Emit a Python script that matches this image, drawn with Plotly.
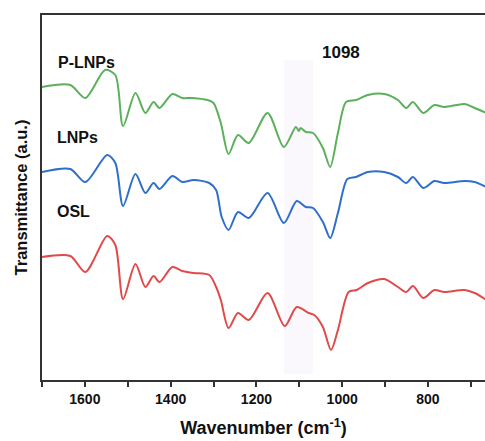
import plotly.graph_objects as go

# Wavenumber (cm-1) and transmittance (arbitrary, offset) per sample
wn_p = [1700, 1634, 1599, 1553, 1529, 1511, 1482, 1459, 1440, 1426, 1396, 1373, 1350, 1314, 1300, 1283,
        1265, 1243, 1218, 1174, 1136, 1108, 1101, 1097, 1085, 1068, 1045, 1028, 1010, 991, 968, 940,
        902, 870, 851, 835, 811, 785, 762, 715, 691, 664]
t_p = [293, 295, 282, 310, 305, 254, 287, 267, 278, 272, 286, 282, 282, 280, 277, 257,
       226, 245, 237, 267, 233, 253, 249, 252, 248, 247, 232, 213, 247, 278, 280, 285,
       286, 280, 272, 278, 267, 275, 273, 276, 272, 267]

wn_l = [1700, 1634, 1599, 1548, 1529, 1511, 1482, 1459, 1440, 1426, 1396, 1373, 1346, 1310, 1294, 1281,
        1265, 1243, 1218, 1174, 1136, 1106, 1085, 1068, 1045, 1028, 1010, 988, 968, 940,
        902, 870, 851, 835, 811, 785, 762, 715, 691, 664]
t_l = [208, 211, 198, 225, 217, 174, 206, 187, 197, 191, 204, 198, 200, 197, 190, 163,
       150, 168, 162, 187, 157, 179, 173, 172, 158, 142, 167, 201, 203, 208,
       208, 203, 197, 203, 192, 199, 197, 199, 198, 193]

wn_o = [1700, 1634, 1599, 1548, 1529, 1511, 1482, 1459, 1440, 1426, 1396, 1373, 1346, 1310, 1294, 1283,
        1265, 1243, 1218, 1174, 1134, 1106, 1078, 1065, 1045, 1026, 1010, 985, 966, 940,
        902, 870, 851, 835, 811, 785, 762, 715, 691, 664]
t_o = [123, 124, 108, 144, 135, 81, 116, 93, 104, 98, 113, 109, 107, 105, 93, 80,
       52, 67, 60, 87, 54, 73, 67, 65, 53, 30, 50, 88, 90, 97,
       101, 93, 88, 94, 82, 90, 88, 90, 87, 80]

band_lo, band_hi = 1068, 1136
band_label = "1098"

fig = go.Figure()
for wn, t, col in [(wn_o, t_o, "#e04a4a"), (wn_l, t_l, "#2f6fcc"), (wn_p, t_p, "#5cb05c")]:
    fig.add_trace(go.Scatter(x=wn, y=t, mode="lines",
                             line=dict(color=col, width=2, shape="spline", smoothing=0.8),
                             showlegend=False, hoverinfo="skip"))

fig.add_shape(type="rect", x0=band_lo, x1=band_hi, y0=6, y1=320, xref="x", yref="y",
              fillcolor="#fbf8fd", line=dict(width=0), layer="below")

for txt, x, y, sz in [("<b>P-LNPs</b>", 1597, 318, 16), ("<b>LNPs</b>", 1617, 243, 16),
                      ("<b>OSL</b>", 1626, 169, 16), ("<b>" + band_label + "</b>", 1003, 328, 17)]:
    fig.add_annotation(x=x, y=y, text=txt, showarrow=False,
                       font=dict(family="Liberation Sans, Arial", size=sz, color="#111"),
                       xanchor="center", yanchor="middle")

fig.update_layout(
    width=485, height=441,
    margin=dict(l=42, r=0, t=15, b=61),
    plot_bgcolor="white", paper_bgcolor="white",
    font=dict(family="Liberation Sans, Arial", color="#111"),
    xaxis=dict(range=[1700, 667], tickvals=[1600, 1400, 1200, 1000, 800],
               ticktext=["<b>1600</b>", "<b>1400</b>", "<b>1200</b>", "<b>1000</b>", "<b>800</b>"],
               tickfont=dict(size=14), ticks="outside", ticklen=5, tickwidth=1.5,
               tickcolor="#333", showline=True, linecolor="#333", linewidth=1.5,
               mirror=True, showgrid=False, zeroline=False,
               minor=dict(tickvals=[1700, 1500, 1300, 1100, 900, 700], ticks="outside",
                          ticklen=5, tickwidth=1.5, tickcolor="#333"),
               title=dict(text="<b>Wavenumber (cm<sup>-1</sup>)</b>", font=dict(size=18), standoff=16)),
    yaxis=dict(range=[0, 365], showticklabels=False, ticks="", showline=True,
               linecolor="#333", linewidth=1.5, showgrid=False, zeroline=False,
               title=dict(text="<b>Transmittance (a.u.)</b>", font=dict(size=16.5), standoff=8)),
)

fig.write_html("out.html")
